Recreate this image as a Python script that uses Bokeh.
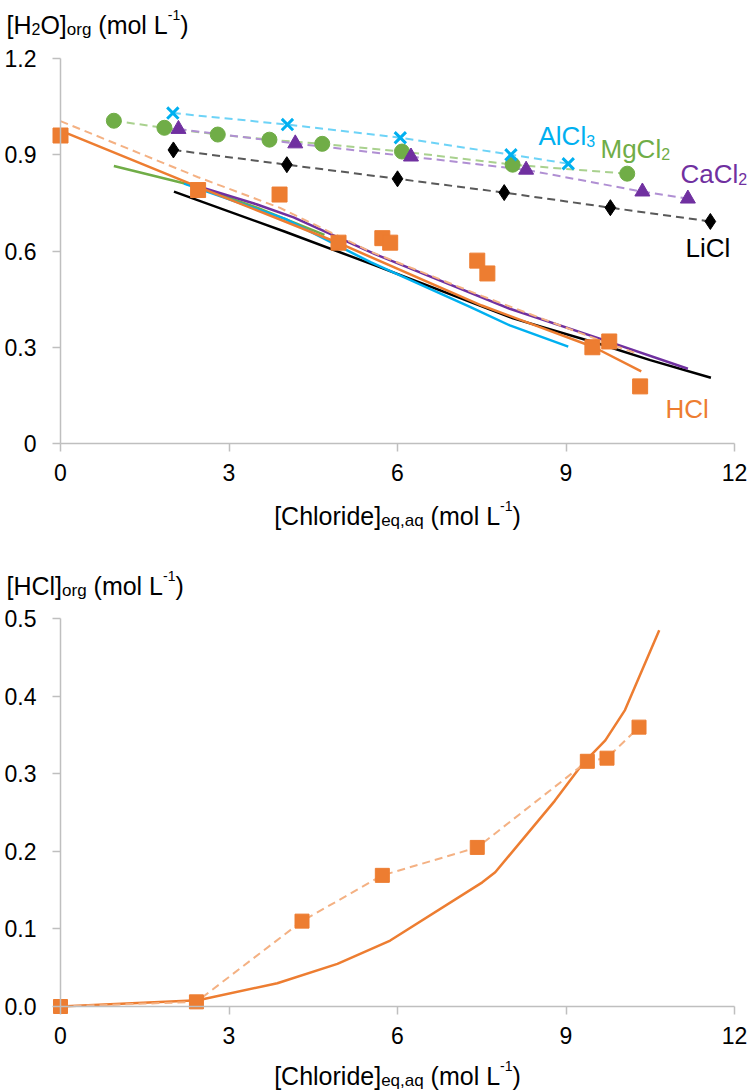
from bokeh.plotting import figure
from bokeh.models import Range1d, FixedTicker, CustomJSTickFormatter, Label
from bokeh.layouts import column
from bokeh.embed import file_html
from bokeh.resources import INLINE

# ---------------- data (top panel: [H2O]org) ----------------
x_ticks = [0, 3, 6, 9, 12]
y1_ticks = [0, 0.3, 0.6, 0.9, 1.2]
y2_ticks = [0, 0.1, 0.2, 0.3, 0.4, 0.5]

alcl3_x = [2.0, 4.04, 6.05, 8.02, 9.04]
alcl3_y = [1.03, 0.994, 0.953, 0.90, 0.872]

mgcl2_x = [0.95, 1.85, 2.8, 3.72, 4.66, 6.08, 8.05, 10.09]
mgcl2_y = [1.006, 0.984, 0.963, 0.947, 0.934, 0.91, 0.869, 0.841]

cacl2_x = [2.1, 4.18, 6.24, 8.29, 10.36, 11.17]
cacl2_y = [0.98, 0.935, 0.894, 0.853, 0.785, 0.763]

licl_x = [2.01, 4.03, 6.0, 7.9, 9.79, 11.57]
licl_y = [0.915, 0.869, 0.825, 0.782, 0.735, 0.692]

hcl_x = [0, 2.45, 3.9, 4.95, 5.73, 5.87, 7.42, 7.6, 9.47, 9.77, 10.32]
hcl_y = [0.96, 0.79, 0.776, 0.626, 0.64, 0.626, 0.57, 0.53, 0.30, 0.318, 0.178]

hcl_dash_x = [0, 2.45, 3.9, 5.52, 7.5, 9.67, 10.27]
hcl_dash_y = [1.005, 0.83, 0.735, 0.598, 0.46, 0.317, 0.28]

# model curves
hcl_model_x = [0, 2.45, 4.95, 7.5, 9.5, 10.34]
hcl_model_y = [0.975, 0.80, 0.625, 0.43, 0.30, 0.225]

licl_model_x = [2.02, 4.0, 5.6, 8.06, 9.6, 10.5, 11.58]
licl_model_y = [0.785, 0.66, 0.555, 0.39, 0.31, 0.26, 0.205]

mgcl2_model_x = [0.95, 2.45, 3.5, 4.7]
mgcl2_model_y = [0.865, 0.80, 0.735, 0.65]

alcl3_model_x = [2.2, 4.0, 5.52, 7.3, 8.0, 9.04]
alcl3_model_y = [0.81, 0.70, 0.565, 0.425, 0.368, 0.302]

cacl2_model_x = [2.3, 3.5, 4.15, 5.6, 8.0, 9.6, 11.17]
cacl2_model_y = [0.81, 0.745, 0.705, 0.59, 0.42, 0.327, 0.233]

# ---------------- data (bottom panel: [HCl]org) ----------------
hclorg_x = [0, 2.42, 4.3, 5.73, 7.42, 9.38, 9.73, 10.3]
hclorg_y = [0.0, 0.006, 0.11, 0.169, 0.205, 0.316, 0.32, 0.36]

hclorg_model_x = [0, 2.45, 3.86, 4.93, 5.87, 7.51, 7.74, 8.8, 9.3, 9.7, 10.05, 10.66]
hclorg_model_y = [0, 0.008, 0.03, 0.055, 0.085, 0.16, 0.173, 0.265, 0.313, 0.343, 0.382, 0.485]

# ---------------- styling ----------------
FONT = "Liberation Sans"
ORANGE, ORANGE_L = "#ed7d31", "#f4b183"
CYAN, CYAN_L = "#00b0f0", "#6dd3f7"
GREEN, GREEN_L = "#70ad47", "#a9d18e"
PURPLE, PURPLE_L = "#7030a0", "#b08fd3"
BLACK, GRAY = "#000000", "#595959"
AXIS = "#bfbfbf"

W = 750
H1, H2 = 540, 552
X0 = 60                   # px of x = 0
PXX = 674 / 12.0          # px per x unit
Y0_1, PXY1 = 443, 385 / 1.2    # top panel: px of y = 0, px per unit
Y0_2, PXY2 = 1006, 388 / 0.5   # bottom panel (page px)

ARIAL = {' ': 278, '(': 333, ')': 333, '[': 278, ']': 278, '-': 333, ',': 278, '.': 278,
         '0': 556, '1': 556, '2': 556, '3': 556,
         'A': 667, 'C': 722, 'H': 722, 'L': 556, 'O': 778, 'M': 833,
         'a': 556, 'd': 556, 'e': 556, 'g': 556, 'h': 556, 'i': 222, 'l': 222,
         'm': 833, 'o': 556, 'q': 556, 'r': 333}


def tw(s, size):
    return sum(ARIAL.get(c, 556) for c in s) / 1000.0 * size


def xd(px):
    return (px - X0) / PXX


def yd1(py):
    return (Y0_1 - py) / PXY1


def yd2(py):
    return (Y0_2 - py) / PXY2


def rich(p, pieces, px, base, yd, color=BLACK):
    x = px
    for text, size, dy in pieces:
        while text.startswith(" "):
            x += tw(" ", size)
            text = text[1:]
        p.add_layout(Label(x=xd(x), y=yd(base + dy), text=text, text_font=FONT,
                           text_font_size=f"{size}px", text_color=color,
                           text_baseline="alphabetic", text_align="left"))
        x += tw(text, size)


def style(p, yticks, ymax, yfmt):
    p.xgrid.visible = False
    p.ygrid.visible = False
    p.outline_line_color = None
    p.background_fill_color = "white"
    p.border_fill_color = "white"
    for ax in (p.xaxis[0], p.yaxis[0]):
        ax.fixed_location = 0
        ax.axis_line_color = AXIS
        ax.axis_line_width = 1.5
        ax.major_tick_line_color = AXIS
        ax.major_tick_line_width = 1.5
        ax.major_tick_out = 8
        ax.major_tick_in = 0
        ax.minor_tick_line_color = None
        ax.major_label_text_font = FONT
        ax.major_label_text_font_size = "23px"
        ax.major_label_text_color = BLACK
    p.xaxis[0].bounds = (0, 12)
    p.xaxis[0].ticker = FixedTicker(ticks=x_ticks)
    p.xaxis[0].formatter = CustomJSTickFormatter(code="return tick.toFixed(0)")
    p.xaxis[0].major_label_standoff = 12
    p.yaxis[0].bounds = (0, ymax)
    p.yaxis[0].ticker = FixedTicker(ticks=yticks)
    p.yaxis[0].formatter = CustomJSTickFormatter(code=yfmt)
    p.yaxis[0].major_label_standoff = 16


def make_fig(height, top_px, yd):
    return figure(width=W, height=height, title=None, output_backend="svg",
                  toolbar_location=None,
                  x_range=Range1d(xd(0), xd(W)),
                  y_range=Range1d(yd(top_px + height), yd(top_px)),
                  min_border_left=0, min_border_right=0,
                  min_border_top=0, min_border_bottom=0)


# ---------------- top figure ----------------
p1 = make_fig(H1, 0, yd1)
style(p1, y1_ticks, 1.2, "return tick == 0 ? '0' : tick.toFixed(1)")

DASH = "8 5"
# model lines
p1.line(licl_model_x, licl_model_y, line_color=BLACK, line_width=2.5)
p1.line(mgcl2_model_x, mgcl2_model_y, line_color=GREEN, line_width=2.5)
p1.line(alcl3_model_x, alcl3_model_y, line_color=CYAN, line_width=2.5)
p1.line(cacl2_model_x, cacl2_model_y, line_color=PURPLE, line_width=2.5)
p1.line(hcl_model_x, hcl_model_y, line_color=ORANGE, line_width=2.5)
# dashed data lines
p1.line(hcl_dash_x, hcl_dash_y, line_color=ORANGE_L, line_width=2, line_dash=DASH)
p1.line(licl_x, licl_y, line_color=GRAY, line_width=2, line_dash=DASH)
p1.line(mgcl2_x, mgcl2_y, line_color=GREEN_L, line_width=2, line_dash=DASH)
p1.line(cacl2_x, cacl2_y, line_color=PURPLE_L, line_width=2, line_dash=DASH)
p1.line(alcl3_x, alcl3_y, line_color=CYAN_L, line_width=2, line_dash=DASH)
# markers
p1.scatter(licl_x, licl_y, marker="diamond", size=16, fill_color=BLACK, line_color=BLACK)
p1.scatter(mgcl2_x, mgcl2_y, marker="circle", size=15, fill_color=GREEN, line_color=GREEN)
p1.scatter(cacl2_x, cacl2_y, marker="triangle", size=15, fill_color=PURPLE, line_color=PURPLE)
p1.scatter(alcl3_x, alcl3_y, marker="x", size=16, line_color=CYAN, line_width=3)
p1.scatter(hcl_x, hcl_y, marker="square", size=15, fill_color=ORANGE, line_color=ORANGE)

# series labels
rich(p1, [("AlCl", 26, 0), ("3", 16, 5)], 538, 135, yd1, CYAN)
rich(p1, [("MgCl", 26, 0), ("2", 16, 5)], 600, 148, yd1, GREEN)
rich(p1, [("CaCl", 26, 0), ("2", 16, 5)], 680, 173, yd1, PURPLE)
rich(p1, [("LiCl", 26, 0)], 685, 247, yd1, BLACK)
rich(p1, [("HCl", 26, 0)], 665, 408, yd1, ORANGE)

# axis titles
rich(p1, [("[H", 25, 0), ("2", 16, 4), ("O]", 25, 0), ("org", 17, 5),
          (" (mol L", 25, 0), ("-1", 14, -10), (")", 25, 0)], 6, 24, yd1)
xt = [("[Chloride]", 25, 0), ("eq,aq", 17, 5), (" (mol L", 25, 0), ("-1", 14, -10), (")", 25, 0)]
xt_w = sum(tw(t, s) for t, s, _ in xt)
rich(p1, xt, 397 - xt_w / 2, 515, yd1)

# ---------------- bottom figure ----------------
p2 = make_fig(H2, H1, yd2)
style(p2, y2_ticks, 0.5, "return tick.toFixed(1)")

p2.line(hclorg_model_x, hclorg_model_y, line_color=ORANGE, line_width=2.5)
p2.line(hclorg_x, hclorg_y, line_color=ORANGE_L, line_width=2, line_dash=DASH)
p2.scatter(hclorg_x, hclorg_y, marker="square", size=14, fill_color=ORANGE, line_color=ORANGE)

rich(p2, [("[HCl]", 25, 0), ("org", 17, 5), (" (mol L", 25, 0), ("-1", 14, -10), (")", 25, 0)],
     6, 585, yd2)
rich(p2, xt, 397 - xt_w / 2, 1075, yd2)

layout = column(p1, p2)
open("out.html", "w").write(file_html(layout, INLINE))
